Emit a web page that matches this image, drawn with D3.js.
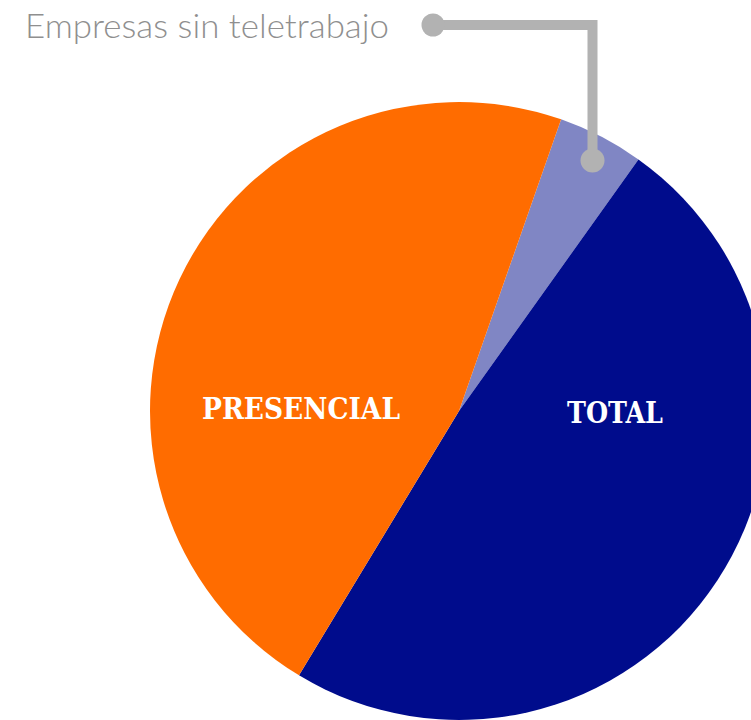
<!DOCTYPE html>
<html><head><meta charset="utf-8">
<script src="https://cdn.jsdelivr.net/npm/d3@7"></script>
<style>html,body{margin:0;padding:0;background:#fff;overflow:hidden}</style>
</head><body>
<svg id="chart" width="751" height="720"></svg>
<script>
const categories = ["Empresas sin teletrabajo", "TOTAL", "PRESENCIAL"];
const values = [4.5, 48.8, 46.7];
const colors = ["#8086c4", "#000c8c", "#ff6c00"];
const sliceLabels = ["", "TOTAL", "PRESENCIAL"];

const W = 751, H = 720;
const cx = 459, cy = 411, R = 309;
const svg = d3.select("#chart");
const g = svg.append("g").attr("transform", `translate(${cx},${cy})`);

const pie = d3.pie().sort(null).value(d => d)
  .startAngle(19.3 * Math.PI / 180)
  .endAngle(19.3 * Math.PI / 180 + 2 * Math.PI);
const arcs = pie(values);
const arc = d3.arc().innerRadius(0).outerRadius(R);

g.selectAll("path.slice").data(arcs).enter().append("path")
  .attr("class", "slice")
  .attr("d", arc)
  .attr("fill", (d, i) => colors[i]);

function fit(sel, target) {
  const w = sel.node().getComputedTextLength();
  if (Math.abs(w - target) > 2) sel.attr("textLength", target).attr("lengthAdjust", "spacingAndGlyphs");
}

// slice labels
const lblPos = [null, {x: 615, y: 423}, {x: 301, y: 419}];
const widths = [0, 96, 198];
sliceLabels.forEach((t, i) => {
  if (!t) return;
  const s = svg.append("text")
    .attr("x", lblPos[i].x).attr("y", lblPos[i].y)
    .attr("text-anchor", "middle")
    .attr("fill", "#ffffff")
    .style("font-family", "'DejaVu Serif Condensed', 'DejaVu Serif', serif")
    .style("font-stretch", "condensed")
    .style("font-weight", "bold")
    .style("font-size", "29px")
    .text(t);
  fit(s, widths[i]);
});

// callout for small slice
const dot1 = {x: 433, y: 25};
const dot2 = {x: 592.5, y: 160.5};
const lineColor = "#b2b2b2";
svg.append("path")
  .attr("d", `M${dot1.x},${dot1.y}H${dot2.x}V${dot2.y}`)
  .attr("fill", "none").attr("stroke", lineColor).attr("stroke-width", 10);
svg.append("circle").attr("cx", dot1.x).attr("cy", dot1.y).attr("r", 11.5).attr("fill", lineColor);
svg.append("circle").attr("cx", dot2.x).attr("cy", dot2.y).attr("r", 12).attr("fill", lineColor);

const title = svg.append("text")
  .attr("x", 25).attr("y", 37.5)
  .attr("fill", "#8f8f8f")
  .style("font-family", "Lato, 'Open Sans', sans-serif")
  .style("font-weight", "300")
  .style("font-size", "34px")
  .text(categories[0]);
fit(title, 364);
</script>
</body></html>
